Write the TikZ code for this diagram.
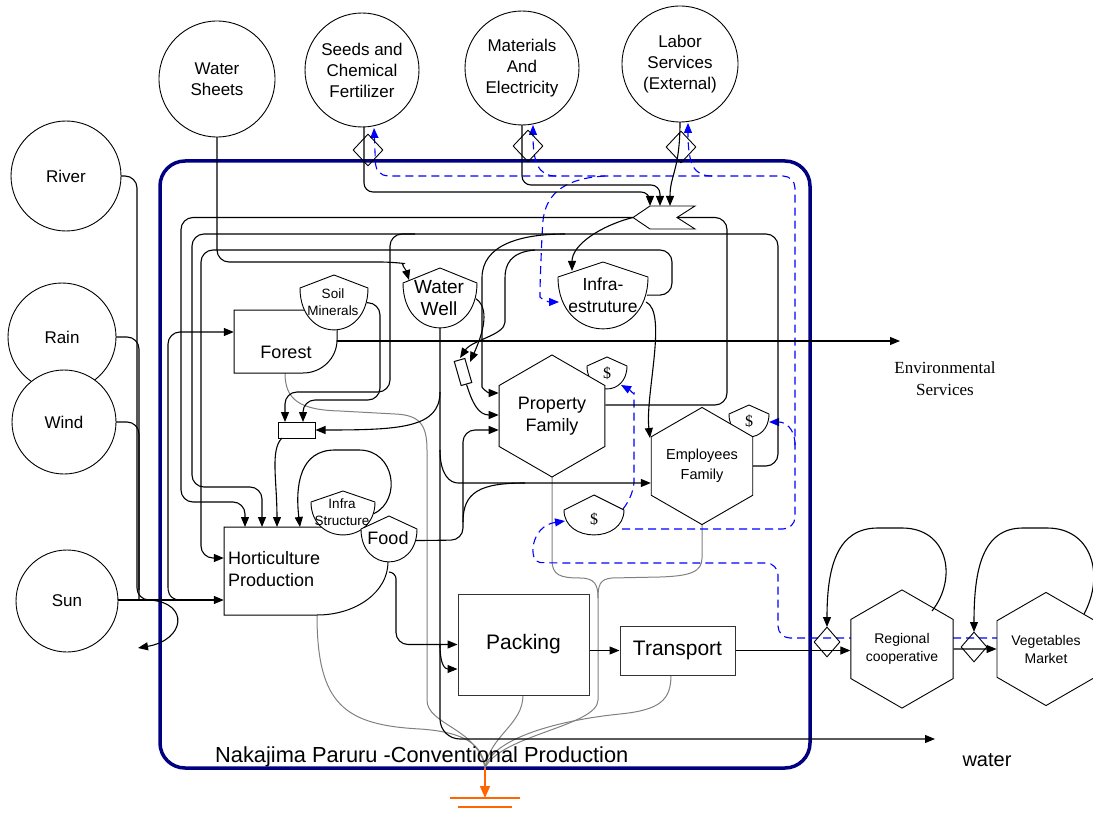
\documentclass[tikz,border=0pt]{standalone}
\usepackage{fontspec}
\setmainfont{Liberation Sans}
\newfontfamily\romanfont{Liberation Serif}
\usetikzlibrary{arrows.meta,shapes.geometric,calc}

\definecolor{boxblue}{RGB}{0,0,128}
\definecolor{sinkorange}{RGB}{255,102,0}
\definecolor{deprgray}{RGB}{128,128,128}

\tikzset{
  src/.style={draw, circle, fill=white, line width=0.9pt, inner sep=0pt, align=center,
    font=\fontsize{17pt}{21pt}\selectfont},
  hexa/.style={draw, fill=white, regular polygon, regular polygon sides=6,
    shape border rotate=30, line width=0.9pt, inner sep=0pt, align=center},
  switch/.style={draw, diamond, minimum width=30pt, minimum height=32pt, inner sep=0pt, line width=0.9pt},
  box/.style={draw=black, line width=1pt, fill=white, inner sep=0pt},
  lbl/.style={inner sep=0pt, align=center},
  arr/.style={-{Triangle[length=10pt,width=8pt]}},
  flow/.style={draw, line width=1.1pt, rounded corners=12pt},
  money/.style={draw=blue, line width=1.1pt, dash pattern=on 8pt off 5pt, rounded corners=12pt},
  depr/.style={draw=deprgray, line width=1pt},
}

% storage tank: name, centre x, top y, half width, shoulder drop, bulge depth
\newcommand\tankat[6]{%
  \draw[fill=white, line width=0.9pt] ({#2-#4},{#3+#5}) -- (#2,#3) -- ({#2+#4},{#3+#5})
    .. controls ({#2+#4},{#3+#5+1.33*#6}) and ({#2-#4},{#3+#5+1.33*#6}) .. ({#2-#4},{#3+#5}) -- cycle;
  \coordinate (#1) at (#2,{#3+#5+0.4*#6});
  \coordinate (#1-s) at (#2,{#3+#5+#6});
  \coordinate (#1-e) at ({#2+#4-1},{#3+#5+0.35*#6});
  \coordinate (#1-w) at ({#2-#4+1},{#3+#5+0.35*#6});
}

\begin{document}
\begin{tikzpicture}[x=1pt,y=-1pt]
\useasboundingbox (0,0) rectangle (1093,813);

% system boundary
\draw[boxblue, line width=3.5pt, rounded corners=25pt] (160,161) rectangle (810,768);

% hidden frames of the drawn producer shapes and the transaction symbol
\node[inner sep=0pt, minimum width=103pt, minimum height=63pt] (forestbox) at (285.5,341.5) {};
\node[inner sep=0pt, minimum width=164pt, minimum height=88pt] (hort) at (306,571) {};
\node[inner sep=0pt, minimum width=62pt, minimum height=23pt] (mkt) at (664,217.5) {};
\coordinate (sink) at (485,768);

% ---------- depreciation to the heat sink ----------
\draw[depr] (285,373) .. controls (285,400) and (300,410) .. (340,411) -- (395,414)
  .. controls (420,415) and (427,425) .. (427,450) -- (427,700) .. controls (427,725) and (478,728) .. (sink);
\draw[depr] (317,615) .. controls (317,705) and (345,725) .. (420,729) .. controls (465,732) and (483,745) .. (sink);
\draw[depr] (523,695) .. controls (523,725) and (490,735) .. (sink);
\draw[depr] (671,675) .. controls (671,700) and (660,710) .. (620,714) .. controls (560,720) and (492,738) .. (sink);
\draw[depr] (552,476) -- (552,560) .. controls (552,575) and (560,578) .. (580,578)
  .. controls (595,578) and (598,585) .. (598,598) -- (598,700) .. controls (598,726) and (500,735) .. (sink);
\draw[depr] (702,523) -- (702,558) .. controls (702,572) and (690,576) .. (660,577) -- (612,578)
  .. controls (600,579) and (598,585) .. (598,598);
\draw[sinkorange, line width=1.4pt, -{Triangle[length=12pt,width=10pt]}] (sink) -- (485,798);
\draw[sinkorange, line width=1.4pt] (450,798) -- (520,798) (458,807) -- (512,807);

% ---------- money flows ----------
\draw[money, arr] (1000,638) -- (778,638) -- (778,563) -- (552,563) .. controls (528,562) and (530,526) .. (565,521);
\draw[money, arr] (623,509) .. controls (634,495) and (634,482) .. (634,470) -- (634,405)
  .. controls (634,395) and (630,390) .. (621,385);
\draw[money, arr] (622,529) -- (795,529) -- (795,176) -- (376,176) -- (374,128);
\draw[money, arr] (795,445) .. controls (795,428) and (785,422) .. (769,422);
\draw[money, arr] (712,176) .. controls (694,176) and (688,165) .. (688,123);
\draw[money, arr] (556,176) .. controls (538,176) and (533,162) .. (533,125);
\draw[money, arr] (605,176) .. controls (570,178) and (545,190) .. (542,235) -- (540,285)
  .. controls (540,298) and (548,302) .. (559,302);

% ---------- energy flows ----------
% environmental sources
\draw[flow] (120,176) -- (137,176) -- (137,600) -- (170,600);
\draw[flow] (116,337) -- (139,337) -- (139,600);
\draw[flow] (116,422) -- (139,422) -- (139,590);
\draw[flow, arr] (118,600) -- (hort.west |- 0,600);
\draw[flow, arr] (178,600) .. controls (168,598) and (168,590) .. (168,575) -- (168,332) -- (forestbox.west |- 0,332);
\draw[flow, arr] (150,600) .. controls (190,603) and (185,640) .. (138,648);

% purchased inputs to the transaction
\draw[flow, arr, rounded corners=9pt] (364,127) -- (364,192) -- (650,192) -- (650,206);
\draw[flow, arr, rounded corners=9pt] (522,125) -- (522,185) -- (660,185) -- (660,206);
\draw[flow, arr] (680,122) .. controls (680,170) and (670,175) .. (670,206);

% transaction outputs
\draw[flow, arr] (mkt.west) -- (181,217.5) -- (181,502) -- (245,502) -- (245,527);
\draw[flow, arr] (mkt.west) .. controls (600,226) and (572,245) .. (572,271);

% water
\draw[flow, arr] (217,137) -- (217,262) -- (392,262) .. controls (400,263) and (406,270) .. (409,280);
\draw[flow, arr, rounded corners=20pt] (440,328) -- (440,739) -- (935,739);

% forest output
\draw[flow, arr] (337,341) -- (900,341);

% producers
\draw[box] (234,310) -- (337,310) -- (337,340) .. controls (337,358) and (322,373) .. (303,373) -- (234,373) -- cycle;
\node[lbl, font=\fontsize{18pt}{21pt}\selectfont] (forest) at (286,352) {Forest};
\draw[box] (224,527) -- (388,527) -- (388,562) .. controls (388,592) and (356,615) .. (317,615) -- (224,615) -- cycle;
\node[lbl, anchor=west, align=left, font=\fontsize{18pt}{22pt}\selectfont] (hortlabel) at (228,569) {Horticulture\\Production};

% storages
\tankat{soil}{334}{275}{34}{13}{42}
\node[lbl, font=\fontsize{13.5pt}{17pt}\selectfont] at (333,302) {Soil\\Minerals};
\tankat{well}{440}{268}{37}{15}{45}
\node[lbl, font=\fontsize{19pt}{22pt}\selectfont] at (439,298) {Water\\Well};
\tankat{infra}{603}{262}{45}{15}{52}
\node[lbl, font=\fontsize{17.5pt}{22pt}\selectfont] at (603,295) {Infra-\\estruture};
\tankat{istr}{343}{491}{32}{11}{33}
\node[lbl, font=\fontsize{13.5pt}{17pt}\selectfont] at (342,512) {Infra\\Structure};
\tankat{food}{389}{516}{28}{13}{33}
\node[lbl, font=\fontsize{18pt}{21pt}\selectfont] at (388,538) {Food};
\tankat{pdol}{607}{357}{20}{9}{23}
\node[lbl, font=\romanfont\fontsize{16pt}{18pt}\selectfont] at (607,373) {\$};
\tankat{edol}{749}{405}{20}{9}{23}
\node[lbl, font=\romanfont\fontsize{16pt}{18pt}\selectfont] at (749,421) {\$};
\tankat{bdol}{594}{495}{30}{15}{25}
\node[lbl, font=\romanfont\fontsize{16pt}{18pt}\selectfont] at (594,519) {\$};

% consumers
\node[hexa, minimum size=122pt, font=\fontsize{18pt}{22pt}\selectfont] (prop) at (552,416) {Property\\Family};
\node[hexa, minimum size=114pt, font=\fontsize{14.5pt}{20pt}\selectfont] (emp) at (702,466) {Employees\\Family};
\node[hexa, minimum size=112pt, font=\fontsize{14pt}{18pt}\selectfont] (reg) at (902,649) {Regional\\cooperative};
\node[hexa, minimum size=112pt, font=\fontsize{14pt}{18pt}\selectfont] (veg) at (1046,649) {Vegetables\\Market};

% processes
\node[box, draw=black!80, minimum width=131pt, minimum height=101pt, font=\fontsize{21pt}{24pt}\selectfont] (pack) at (523.5,644.5) {Packing};
\node[box, draw=black!80, minimum width=115pt, minimum height=49pt, font=\fontsize{21pt}{24pt}\selectfont] (trans) at (677.5,650.5) {Transport};
\node[box, minimum width=37pt, minimum height=16pt] (gateF) at (296.5,430) {};
\node[box, minimum width=11pt, minimum height=25pt, rotate=16] (trect) at (463,372) {};

% transaction symbol
\draw[line width=0.9pt, fill=white] (633,217.5) -- (650,206) -- (695,206) -- (677,217.5) -- (695,229) -- (650,229) -- cycle;

% flows inside the farm
\draw[flow, arr] (infra-e) -- (672,295) -- (672,250) -- (201,250) -- (201,558) -- (hort.west |- 0,558);
\draw[flow, arr] (emp.east) -- (778,466) -- (778,234) -- (192,234) -- (192,487) -- (262,487) -- (262,527);
\draw[flow, arr] (415,234) -- (390,234) -- (390,392) -- (285,392) -- (285,422);
\draw[flow, arr] (soil-e) -- (380,303) -- (380,400) -- (303,400) -- (303,422);
\draw[flow, arr] (565,234) .. controls (520,234) and (482,245) .. (482,290) -- (482,375)
  .. controls (482,388) and (488,393) .. ($(prop.west)+(0,-23)$);
\draw[flow, arr] (535,250) .. controls (510,252) and (505,265) .. (505,290) -- (505,310)
  .. controls (505,335) and (472,340) .. (460,358);
\draw[flow, arr] (well-e) .. controls (492,310) and (480,340) .. (470,362);
\draw[flow, arr] (trect.south) .. controls (472,402) and (478,415) .. ($(prop.west)+(0,-1)$);
\draw[flow, arr] (440,392) .. controls (440,428) and (400,430) .. (gateF.east);
\draw[flow, arr] (440,450) .. controls (440,475) and (450,483) .. (470,483) -- ($(emp.west)+(0,17)$);
\draw[flow, arr] (food-e) -- (463,540) -- (463,430) -- ($(prop.west)+(0,14)$);
\draw[flow] (463,522) .. controls (463,492) and (480,483) .. (525,483);
\draw[flow, arr] (389,572) .. controls (397,573) and (396,580) .. (396,592) -- (396,644.5) -- (pack.west);
\draw[flow, arr] (440,645) .. controls (440,665) and (445,669) .. ($(pack.west)+(0,24.5)$);
\draw[flow, arr] (istr-e) .. controls (402,500) and (395,450) .. (347,450) .. controls (300,450) and (295,485) .. (300,527);
\draw[flow, arr] (282,438) .. controls (270,450) and (277,480) .. (277,527);
\draw[flow, arr] (646,302) .. controls (668,312) and (645,395) .. (650,438);
\draw[flow] ($(prop.east)+(0,-11)$) -- (727,405) -- (727,217.5) -- (677,217.5);
\draw[flow, arr] (pack.east |- trans.west) -- (trans.west);
\draw[flow, arr] (trans.east) -- (trans.east -| reg.west);
\draw[flow, arr] (reg.east) -- (veg.west);
\draw[flow, arr] (932,611) .. controls (958,578) and (948,528) .. (890,528) .. controls (838,528) and (827,565) .. (827,627);
\draw[flow, arr] (1084,614) .. controls (1105,575) and (1092,528) .. (1035,528) .. controls (982,528) and (974,570) .. (974,632);

% sources
\node[src, minimum size=116pt] (ws) at (217,79) {Water\\Sheets};
\node[src, minimum size=114pt] (seeds) at (362,70) {Seeds and\\Chemical\\Fertilizer};
\node[src, minimum size=114pt] (mat) at (522,68) {Materials\\And\\Electricity};
\node[src, minimum size=116pt] (labor) at (680,64) {Labor\\Services\\(External)};
\node[src, minimum size=110pt] (river) at (66,176) {River};
\node[src, minimum size=108pt] (rain) at (62,337) {Rain};
\node[src, minimum size=104pt] (wind) at (64,422) {Wind};
\node[src, minimum size=102pt] (sun) at (67,601) {Sun};

% price switches
\node[switch] (sw1) at (368,150) {};
\node[switch] (sw2) at (528,146) {};
\node[switch] (sw3) at (681,147) {};
\node[switch, minimum width=26pt, minimum height=30pt] (sw4) at (827,642) {};
\node[switch, minimum width=26pt, minimum height=30pt] (sw5) at (974,647) {};

% labels
\node[anchor=base west, inner sep=0pt, font=\fontsize{21.8pt}{24pt}\selectfont] at (215,762) {Nakajima Paruru -Conventional Production};
\node[lbl, font=\romanfont\fontsize{17pt}{22pt}\selectfont] at (945,379) {Environmental\\Services};
\node[anchor=base, inner sep=0pt, font=\fontsize{20pt}{24pt}\selectfont] at (987,766) {water};
\end{tikzpicture}
\end{document}
